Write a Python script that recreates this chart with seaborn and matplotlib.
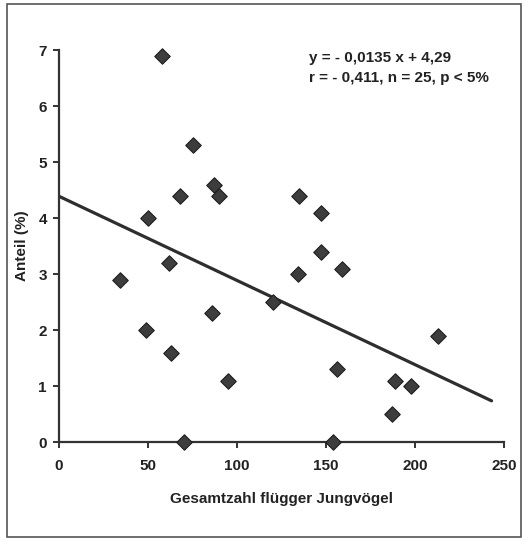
import matplotlib
matplotlib.use("Agg")
import matplotlib.pyplot as plt
import seaborn as sns
import pandas as pd
from matplotlib.patches import Rectangle

# Data
jungvoegel = [58, 75, 87, 90, 68, 50, 135, 147, 147, 62, 34, 49, 63, 86, 95, 70,
              134, 159, 120, 213, 156, 189, 198, 187, 154]
anteil = [6.9, 5.3, 4.6, 4.4, 4.4, 4.0, 4.4, 4.1, 3.4, 3.2, 2.9, 2.0, 1.6, 2.3, 1.1, 0.0,
          3.0, 3.1, 2.5, 1.9, 1.3, 1.1, 1.0, 0.5, 0.0]
trend_x = [0, 243]
trend_y = [4.39, 0.74]
x_ticks = [0, 50, 100, 150, 200, 250]
y_ticks = [0, 1, 2, 3, 4, 5, 6, 7]
x_label = "Gesamtzahl flügger Jungvögel"
y_label = "Anteil (%)"
eq_lines = ["y = - 0,0135 x + 4,29", "r = - 0,411, n = 25, p < 5%"]

sns.set_style("white")
plt.rcParams["font.family"] = ["Liberation Sans", "DejaVu Sans"]
plt.rcParams["font.weight"] = "bold"

W, H = 526, 538
fig = plt.figure(figsize=(W / 100, H / 100), dpi=100)
x0, x1 = 59, 504
y0, y1 = 442.3, 50
ax = fig.add_axes([x0 / W, (H - y0) / H, (x1 - x0) / W, (y0 - y1) / H])

df = pd.DataFrame({"x": jungvoegel, "y": anteil})
tdf = pd.DataFrame({"x": trend_x, "y": trend_y})

sns.lineplot(data=tdf, x="x", y="y", ax=ax, color="#2e2e2e", linewidth=2.3, zorder=2)
sns.scatterplot(data=df, x="x", y="y", ax=ax, marker="D", s=62, color="#3d3d3d",
                edgecolor="#1e1e1e", linewidth=0.8, zorder=3, clip_on=False)

ax.set_xlim(0, 250)
ax.set_ylim(0, 7)
ax.set_xticks(x_ticks)
ax.set_yticks(y_ticks)
ax.set_xticklabels([str(t) for t in x_ticks], fontsize=11, fontweight="bold", color="#222222")
ax.set_yticklabels([str(t) for t in y_ticks], fontsize=11, fontweight="bold", color="#222222")
ax.set_xlabel(x_label, fontsize=11, fontweight="bold", color="#222222", labelpad=14)
ax.set_ylabel(y_label, fontsize=11, fontweight="bold", color="#222222", labelpad=7)

for side in ["top", "right"]:
    ax.spines[side].set_visible(False)
for side in ["left", "bottom"]:
    ax.spines[side].set_color("#333333")
    ax.spines[side].set_linewidth(1.6)
ax.tick_params(axis="both", direction="out", length=4, width=1.4, color="#333333",
               left=True, bottom=True)
ax.tick_params(axis="x", pad=8)
ax.tick_params(axis="y", pad=4.7)

ax.text(0.562, 0.997, eq_lines[0] + "\n" + eq_lines[1], transform=ax.transAxes,
        fontsize=11, fontweight="bold", color="#222222", va="top", ha="left",
        linespacing=1.5)

fig.patches.append(Rectangle((7 / W, 1.5 / H), (520.5 - 7) / W, (532.5) / H,
                             transform=fig.transFigure, fill=False,
                             edgecolor="#555555", linewidth=1.2))

fig.savefig("out.png", dpi=100, facecolor="white")
